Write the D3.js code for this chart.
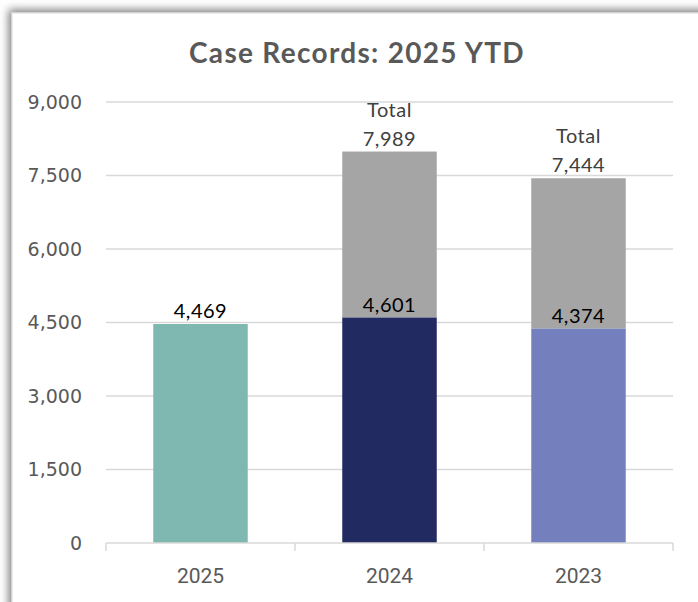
<!DOCTYPE html>
<html>
<head>
<meta charset="utf-8">
<script src="https://cdn.jsdelivr.net/npm/d3@7"></script>
<style>
  html, body { margin: 0; padding: 0; background: #fff; overflow: hidden; }
</style>
</head>
<body>
<div id="chart"></div>
<script>
// Case records chart data
const categories = ["2025", "2024", "2023"];
const ytdValues = [4469, 4601, 4374];
const totalValues = [null, 7989, 7444];
const barColors = ["#7fb8b1", "#222a62", "#7480bd"];
const yTicks = [0, 1500, 3000, 4500, 6000, 7500, 9000];

function drawChart() {
    const W = 698, H = 602;
    const margin = {top: 102, right: 25, bottom: 59, left: 106},
          width = W - margin.left - margin.right,
          height = H - margin.top - margin.bottom;

    const root = d3.select("#chart").append("svg")
        .attr("width", W)
        .attr("height", H);

    // Frame with soft shadow on top/left
    const defs = root.append("defs");
    const f = defs.append("filter").attr("id", "shadow")
        .attr("x", "-10%").attr("y", "-10%").attr("width", "130%").attr("height", "130%");
    f.append("feDropShadow")
        .attr("dx", -3).attr("dy", -3)
        .attr("stdDeviation", 4)
        .attr("flood-color", "#000")
        .attr("flood-opacity", 0.5);

    root.append("rect")
        .attr("x", 12).attr("y", 13)
        .attr("width", 740).attr("height", 640)
        .attr("fill", "#fff")
        .attr("stroke", "#d9d9d9")
        .attr("stroke-width", 1)
        .attr("filter", "url(#shadow)");

    // Title
    root.append("text")
        .attr("x", 357)
        .attr("y", 63)
        .attr("text-anchor", "middle")
        .style("font-family", "Lato, 'DejaVu Sans', sans-serif")
        .style("font-size", "28px")
        .style("font-weight", "bold")
        .style("letter-spacing", "1.3px")
        .style("fill", "#595959")
        .text("Case Records: 2025 YTD");

    const svg = root.append("g")
        .attr("transform", `translate(${margin.left},${margin.top})`);

    const x = d3.scaleBand()
        .domain(categories)
        .range([0, width])
        .paddingInner(0.5)
        .paddingOuter(0.25);

    const y = d3.scaleLinear()
        .domain([0, 9000])
        .range([height, 0]);

    // Gridlines
    svg.append("g")
        .selectAll("line")
        .data(yTicks.filter(d => d > 0))
        .enter()
        .append("line")
        .attr("x1", 0)
        .attr("x2", width)
        .attr("y1", d => y(d))
        .attr("y2", d => y(d))
        .attr("stroke", "#d9d9d9")
        .attr("stroke-width", 1.5);

    // Y axis labels
    const yAxis = svg.append("g")
        .call(d3.axisLeft(y).tickValues(yTicks).tickFormat(d3.format(",")).tickSize(0).tickPadding(24));
    yAxis.select(".domain").remove();
    yAxis.selectAll("text")
        .style("font-family", "'DejaVu Sans', sans-serif")
        .style("font-size", "19px")
        .style("fill", "#595959");

    // Stacked bars: YTD part + remainder to total
    const data = categories.map((c, i) => ({cat: c, ytd: ytdValues[i], total: totalValues[i], color: barColors[i]}));

    svg.selectAll(".bar-rest")
        .data(data.filter(d => d.total != null))
        .enter()
        .append("rect")
        .attr("class", "bar-rest")
        .attr("x", d => x(d.cat))
        .attr("y", d => y(d.total))
        .attr("width", x.bandwidth())
        .attr("height", d => y(d.ytd) - y(d.total))
        .attr("fill", "#a5a5a5");

    svg.selectAll(".bar-ytd")
        .data(data)
        .enter()
        .append("rect")
        .attr("class", "bar-ytd")
        .attr("x", d => x(d.cat))
        .attr("y", d => y(d.ytd))
        .attr("width", x.bandwidth())
        .attr("height", d => height - y(d.ytd))
        .attr("fill", d => d.color);

    // X axis
    const xAxis = svg.append("g")
        .attr("transform", `translate(0,${height})`);
    xAxis.append("line")
        .attr("x1", 0).attr("x2", width)
        .attr("y1", 0).attr("y2", 0)
        .attr("stroke", "#d9d9d9")
        .attr("stroke-width", 1.5);
    const bounds = [0].concat(categories.map(c => x(c) + x.bandwidth() + x.step() * x.paddingInner() / 2));
    bounds[bounds.length - 1] = width;
    xAxis.selectAll(".xtick")
        .data(bounds)
        .enter()
        .append("line")
        .attr("x1", d => d).attr("x2", d => d)
        .attr("y1", 0).attr("y2", 8)
        .attr("stroke", "#d9d9d9")
        .attr("stroke-width", 1.5);
    xAxis.selectAll(".xlabel")
        .data(categories)
        .enter()
        .append("text")
        .attr("x", d => x(d) + x.bandwidth() / 2)
        .attr("y", 40)
        .attr("text-anchor", "middle")
        .style("font-family", "Roboto, sans-serif")
        .style("font-size", "21px")
        .style("fill", "#595959")
        .text(d => d);

    // Data labels
    const labelStyle = sel => sel
        .attr("text-anchor", "middle")
        .style("font-family", "Lato, sans-serif")
        .style("font-size", "20px")
        .style("letter-spacing", "0.5px");

    svg.selectAll(".ytd-label")
        .data(data)
        .enter()
        .append("text")
        .attr("x", d => x(d.cat) + x.bandwidth() / 2)
        .attr("y", d => y(d.ytd) - 6)
        .call(labelStyle)
        .style("fill", "#000")
        .text(d => d3.format(",")(d.ytd));

    const totals = data.filter(d => d.total != null);
    svg.selectAll(".total-label")
        .data(totals)
        .enter()
        .append("text")
        .attr("x", d => x(d.cat) + x.bandwidth() / 2)
        .attr("y", d => y(d.total) - 6)
        .call(labelStyle)
        .style("fill", "#404040")
        .text(d => d3.format(",")(d.total));

    svg.selectAll(".total-word")
        .data(totals)
        .enter()
        .append("text")
        .attr("x", d => x(d.cat) + x.bandwidth() / 2)
        .attr("y", d => y(d.total) - 35)
        .call(labelStyle)
        .style("fill", "#404040")
        .text("Total");
}

document.addEventListener('DOMContentLoaded', drawChart);
</script>
</body>
</html>
